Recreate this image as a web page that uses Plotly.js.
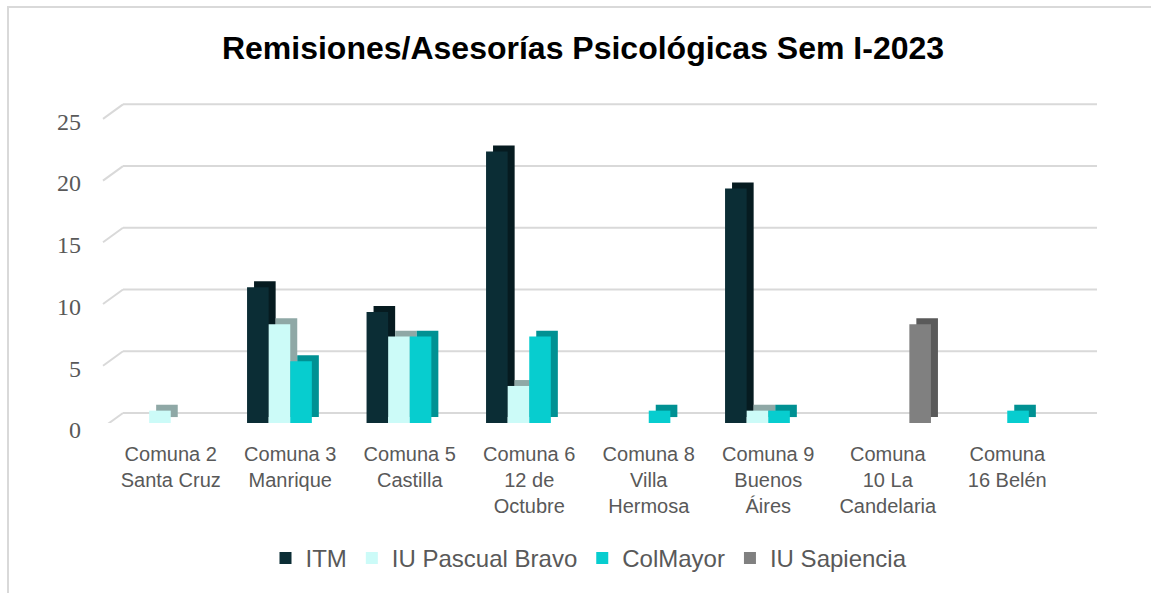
<!DOCTYPE html>
<html>
<head>
<meta charset="utf-8">
<script src="https://cdn.plot.ly/plotly-3.0.1.min.js"></script>
<style>
  html, body { margin: 0; padding: 0; background: #ffffff; }
  #wrap { position: relative; width: 1151px; height: 593px; overflow: hidden; }
  #chart { position: absolute; left: 0; top: 0; width: 1151px; height: 593px; }
  #frame { position: absolute; left: 7px; top: 6px; width: 1200px; height: 700px;
           border-left: 2px solid #d9d9d9; border-top: 2px solid #d9d9d9; pointer-events: none; }
</style>
</head>
<body>
<div id="wrap">
  <div id="chart"></div>
  <div id="frame"></div>
</div>
<script>
// ---- data ----
const categories = [
  "Comuna 2<br>Santa Cruz",
  "Comuna 3<br>Manrique",
  "Comuna 5<br>Castilla",
  "Comuna 6<br>12 de<br>Octubre",
  "Comuna 8<br>Villa<br>Hermosa",
  "Comuna 9<br>Buenos<br>Áires",
  "Comuna<br>10 La<br>Candelaria",
  "Comuna<br>16 Belén"
];
const seriesNames = ["ITM", "IU Pascual Bravo", "ColMayor", "IU Sapiencia"];
const itm       = [0, 11, 9, 22, 0, 19, 0, 0];
const pascual   = [1, 8, 7, 3, 0, 1, 0, 0];
const colmayor  = [0, 5, 7, 7, 1, 1, 0, 1];
const sapiencia = [0, 0, 0, 0, 0, 0, 8, 0];
const yTicks = [0, 5, 10, 15, 20, 25];

// ---- styling ----
const frontColors = ["#0b2d35", "#ccfbf8", "#07cdcf", "#808080"];
const sideColors  = ["#061b20", "#8fa8a6", "#009193", "#5a5a5a"];
const seriesValues = [itm, pascual, colmayor, sapiencia];

const L = 111, R = 1067, T = 102, B = 427;
const yMax = 26;
const plotW = R - L, plotH = B - T;
const catPx = plotW / categories.length;
const yPerPx = yMax / plotH;
const w = 21.6 / catPx;          // bar width in category units
const dx = 7 / catPx;            // depth shift (x)
const dy = 6 * yPerPx;           // depth shift (y)

const xIdx = categories.map((c, i) => i);
const traces = [];
// back (depth) faces first
seriesValues.forEach((vals, i) => {
  traces.push({
    type: "bar", x: xIdx, y: vals, base: dy,
    width: w, offset: -2 * w + i * w + dx,
    marker: { color: sideColors[i], line: { width: 0 } },
    showlegend: false, hoverinfo: "skip"
  });
});
// front faces
seriesValues.forEach((vals, i) => {
  traces.push({
    type: "bar", name: seriesNames[i], x: xIdx, y: vals,
    width: w, offset: -2 * w + i * w,
    marker: { color: frontColors[i], line: { width: 0 } }
  });
});

// 3D-looking gridlines (floor slant + back wall line)
const shapes = [];
yTicks.forEach(v => {
  shapes.push({
    type: "line", layer: "below",
    xref: "paper", xsizemode: "pixel", xanchor: 0, x0: -8, x1: 12,
    yref: "y", ysizemode: "pixel", yanchor: v, y0: -4.5, y1: 10,
    line: { color: "#d9d9d9", width: 2 }
  });
  shapes.push({
    type: "line", layer: "below",
    xref: "paper", x0: 12 / plotW, x1: (1097 - L) / plotW,
    yref: "y", ysizemode: "pixel", yanchor: v, y0: 10, y1: 10,
    line: { color: "#d9d9d9", width: 2 }
  });
});

const layout = {
  width: 1151, height: 593,
  margin: { l: L, r: 1151 - R, t: T, b: 593 - B, pad: 0 },
  paper_bgcolor: "#ffffff", plot_bgcolor: "rgba(0,0,0,0)",
  barmode: "overlay",
  title: {
    text: "<b>Remisiones/Asesorías Psicológicas Sem I-2023</b>",
    font: { family: "Liberation Sans, Arial, sans-serif", size: 32, color: "#000000" },
    x: 583 / 1151, xanchor: "center", xref: "container",
    y: 1 - 48 / 593, yanchor: "middle", yref: "container"
  },
  xaxis: {
    type: "linear", range: [-0.5, categories.length - 0.5],
    tickmode: "array", tickvals: xIdx, ticktext: categories,
    showgrid: false, zeroline: false, showline: false, ticks: "",
    ticklabelstandoff: 17,
    tickfont: { family: "Liberation Sans, Arial, sans-serif", size: 20, color: "#595959" },
    fixedrange: true
  },
  yaxis: {
    range: [0, yMax], tickmode: "array", tickvals: yTicks,
    showgrid: false, zeroline: false, showline: false, ticks: "",
    ticklabelstandoff: 29, ticklabelshift: 7,
    tickfont: { family: "Liberation Serif, serif", size: 24, color: "#595959" },
    fixedrange: true
  },
  legend: {
    orientation: "h", x: 0.5, xanchor: "center",
    y: (B - 564) / plotH, yanchor: "middle",
    font: { family: "Liberation Sans, Arial, sans-serif", size: 24, color: "#595959" },
    traceorder: "normal", itemclick: false, itemdoubleclick: false
  },
  shapes: shapes,
  showlegend: true
};

Plotly.newPlot("chart", traces, layout, { displayModeBar: false, staticPlot: true });
</script>
</body>
</html>
